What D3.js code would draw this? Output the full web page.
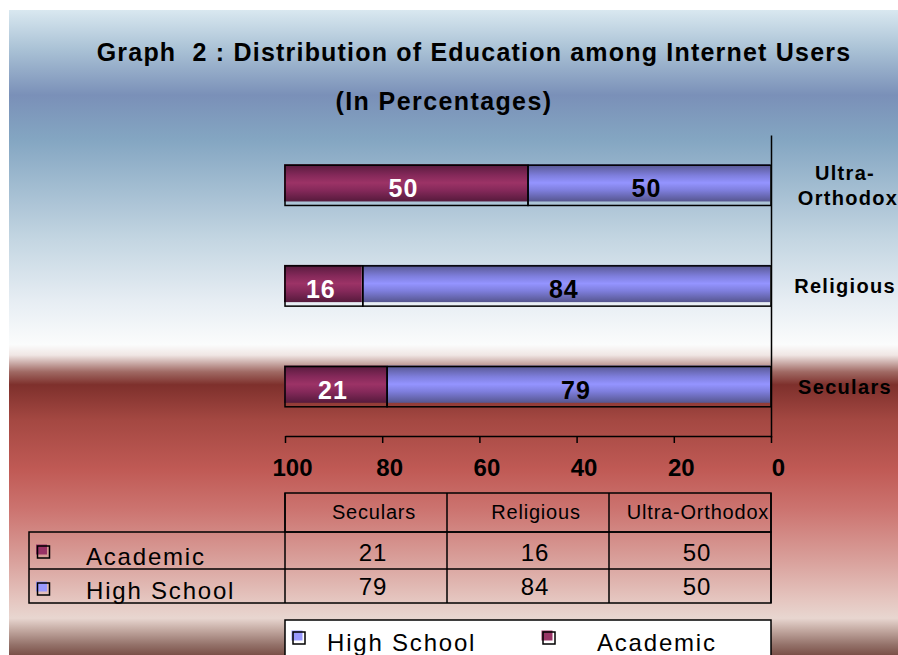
<!DOCTYPE html>
<html>
<head>
<meta charset="utf-8">
<script src="https://cdn.jsdelivr.net/npm/d3@7"></script>
<style>
  html, body { margin: 0; padding: 0; background: #fff; }
  svg { display: block; font-family: Arial, "Liberation Sans", sans-serif; }
</style>
</head>
<body>
<div id="chart_id"></div>
<script>
// --- data ---
const groups = ["Seculars", "Religious", "Ultra-Orthodox"];
const academic = [21, 16, 50];
const highSchool = [79, 84, 50];
const xTicks = [100, 80, 60, 40, 20, 0];
const seriesNames = ["Academic", "High School"];
const legendOrder = ["High School", "Academic"];

const colors = { "Academic": "#993366", "High School": "#9999ff" };

const width = 898, height = 655;

const svg = d3.select("#chart_id").append("svg")
  .attr("width", width)
  .attr("height", height);

const defs = svg.append("defs");

// background gradient (blue sky -> white -> red)
const bg = defs.append("linearGradient").attr("id", "bgGrad")
  .attr("x1", 0).attr("y1", 0).attr("x2", 0).attr("y2", 1);
[
  [0, "#d9e8f0"], [0.062, "#a9c1d5"], [0.132, "#7a90b8"], [0.202, "#84a6c2"],
  [0.357, "#c4d6e2"], [0.45, "#e6edf3"], [0.519, "#fbfcfc"], [0.535, "#f0e6e4"],
  [0.561, "#a06a64"], [0.581, "#7e302c"], [0.636, "#a44842"], [0.713, "#c05a55"],
  [0.775, "#cc7470"], [0.853, "#d9a09b"], [0.915, "#e5c6c0"], [0.943, "#e8d6d0"],
  [0.961, "#c4aaa2"], [0.984, "#94726a"], [1, "#7a5048"]
].forEach(([o, c]) => bg.append("stop").attr("offset", o).attr("stop-color", c));

// bar gradients (cylinder banding)
function barGrad(id, dark, mid, light) {
  const g = defs.append("linearGradient").attr("id", id)
    .attr("x1", 0).attr("y1", 0).attr("x2", 0).attr("y2", 1);
  [[0, dark], [0.3, mid], [0.5, light], [0.7, mid], [1, dark]]
    .forEach(([o, c]) => g.append("stop").attr("offset", o).attr("stop-color", c));
}
barGrad("gradAcademic", "#561a3c", "#85295a", "#9c3366");
barGrad("gradHigh", "#56568f", "#7e7edc", "#9494ff");
const gradIds = { "Academic": "url(#gradAcademic)", "High School": "url(#gradHigh)" };

svg.append("rect")
  .attr("x", 9).attr("y", 10)
  .attr("width", width - 9).attr("height", height - 10)
  .attr("fill", "url(#bgGrad)");

// --- title ---
svg.append("text")
  .attr("x", 474).attr("y", 61)
  .attr("text-anchor", "middle")
  .style("white-space", "pre")
  .attr("font-size", 25).attr("font-weight", "bold")
  .attr("letter-spacing", 1.2)
  .text("Graph  2 : Distribution of Education among Internet Users");
svg.append("text")
  .attr("x", 444).attr("y", 110)
  .attr("text-anchor", "middle")
  .attr("font-size", 25).attr("font-weight", "bold")
  .attr("letter-spacing", 1.4)
  .text("(In Percentages)");

// --- scales ---
const x = d3.scaleLinear().domain([100, 0]).range([285, 771]);
const y = d3.scaleBand()
  .domain(groups.slice().reverse())
  .range([135, 437])
  .paddingInner(0.6)
  .paddingOuter(0.3);

const rows = groups.map((g, i) => ({ group: g, "Academic": academic[i], "High School": highSchool[i] }));
const stacked = d3.stack().keys(["High School", "Academic"])(rows);

const bh = y.bandwidth();

// bars
const layer = svg.append("g").selectAll("g")
  .data(stacked)
  .join("g");

layer.selectAll("rect.fill")
  .data(s => s.map(d => ({ key: s.key, d })))
  .join("rect")
  .attr("class", "fill")
  .attr("x", e => x(e.d[1]) - 1)
  .attr("y", e => y(e.d.data.group) - 1)
  .attr("width", e => x(e.d[0]) - x(e.d[1]))
  .attr("height", bh - 3)
  .attr("fill", e => gradIds[e.key]);

layer.selectAll("rect.outline")
  .data(s => s.map(d => ({ key: s.key, d })))
  .join("rect")
  .attr("class", "outline")
  .attr("x", e => x(e.d[1]))
  .attr("y", e => y(e.d.data.group))
  .attr("width", e => x(e.d[0]) - x(e.d[1]))
  .attr("height", bh)
  .attr("fill", "none")
  .attr("stroke", "#000")
  .attr("stroke-width", 1.5);

layer.selectAll("text")
  .data(s => s.map(d => ({ key: s.key, d })))
  .join("text")
  .attr("x", e => (x(e.d[0]) + x(e.d[1])) / 2 - 3)
  .attr("y", e => y(e.d.data.group) + bh / 2 + 12)
  .attr("text-anchor", "middle")
  .attr("font-size", 25).attr("font-weight", "bold")
  .attr("letter-spacing", 1)
  .attr("fill", e => e.key === "Academic" ? "#fff" : "#000")
  .text(e => e.d[1] - e.d[0]);

// vertical axis line
svg.append("g")
  .attr("transform", `translate(${x(0)},0)`)
  .call(d3.axisLeft(y).tickSize(0).tickFormat(""))
  .call(g => g.select(".domain").attr("stroke", "#000").attr("stroke-width", 1.5));

// category labels
const catLabels = svg.append("g")
  .attr("font-size", 20).attr("font-weight", "bold")
  .attr("letter-spacing", 1.3)
  .attr("text-anchor", "middle");
groups.forEach(g => {
  const cy = y(g) + bh / 2;
  if (g === "Ultra-Orthodox") {
    catLabels.append("text").attr("x", 845).attr("y", cy - 5).text("Ultra-");
    catLabels.append("text").attr("x", 848).attr("y", cy + 20).text("Orthodox");
  } else {
    catLabels.append("text").attr("x", 845).attr("y", cy + 7).text(g);
  }
});

// bottom axis
const axisY = 436;
svg.append("g")
  .attr("transform", `translate(0,${axisY})`)
  .call(d3.axisBottom(x).tickValues(xTicks).tickSize(7).tickSizeOuter(0).tickPadding(16))
  .call(g => g.select(".domain").attr("stroke", "#000").attr("stroke-width", 1.5))
  .call(g => g.selectAll(".tick line").attr("stroke", "#000").attr("stroke-width", 1.5))
  .call(g => g.selectAll(".tick text")
    .attr("font-size", 24).attr("font-weight", "bold")
    .attr("font-family", "Arial, 'Liberation Sans', sans-serif")
    .attr("dx", 7).attr("fill", "#000"));

// --- data table ---
const col = d3.scaleBand().domain(groups).range([x(100), x(0)]);
const tHead = [493, 532], tRows = [[532, 569], [569, 603]];
const table = svg.append("g").attr("stroke", "#000").attr("stroke-width", 1.5);
// header row
table.append("rect").attr("x", x(100)).attr("y", tHead[0])
  .attr("width", x(0) - x(100)).attr("height", tHead[1] - tHead[0]).attr("fill", "none");
groups.forEach(g => table.append("line")
  .attr("x1", col(g)).attr("x2", col(g)).attr("y1", tHead[0]).attr("y2", tRows[1][1]));
// body rows
table.append("rect").attr("x", 29).attr("y", tRows[0][0])
  .attr("width", x(0) - 29).attr("height", tRows[1][1] - tRows[0][0]).attr("fill", "none");
table.append("line").attr("x1", 29).attr("x2", x(0)).attr("y1", tRows[1][0]).attr("y2", tRows[1][0]);
table.append("line").attr("x1", x(0)).attr("x2", x(0)).attr("y1", tHead[0]).attr("y2", tRows[1][1]);

svg.append("g").attr("font-size", 20).attr("letter-spacing", 0.8).attr("text-anchor", "middle")
  .selectAll("text").data(groups).join("text")
  .attr("x", g => col(g) + col.bandwidth() / 2 + 8)
  .attr("y", 519)
  .text(g => g);

const tableSeries = [academic, highSchool];
function marker(g, mx, my, name) {
  g.append("rect").attr("x", mx - 1.5).attr("y", my - 1.5).attr("width", 11).attr("height", 10)
    .attr("fill", colors[name]);
  g.append("rect").attr("x", mx).attr("y", my).attr("width", 12).attr("height", 12)
    .attr("fill", "none").attr("stroke", "#000").attr("stroke-width", 1.5);
}
seriesNames.forEach((name, r) => {
  const [y0, y1] = tRows[r];
  const g = svg.append("g");
  marker(g, 37.5, y0 + 14, name);
  g.append("text").attr("x", 86).attr("y", y1 - 4)
    .attr("font-size", 24).attr("letter-spacing", 1.8)
    .text(name);
  g.selectAll("text.val").data(tableSeries[r]).join("text")
    .attr("class", "val")
    .attr("x", (v, i) => col(groups[i]) + col.bandwidth() / 2 + 7)
    .attr("y", y1 - 8)
    .attr("text-anchor", "middle")
    .attr("font-size", 24).attr("letter-spacing", 1)
    .text(v => v);
});

// --- legend ---
const lg = svg.append("g");
lg.append("rect").attr("x", x(100)).attr("y", 620).attr("width", x(0) - x(100)).attr("height", 50)
  .attr("fill", "#fff").attr("stroke", "#000").attr("stroke-width", 1.5);
const legendX = { "High School": 293, "Academic": 543 };
const legendTextX = { "High School": 327, "Academic": 597 };
legendOrder.forEach(name => {
  marker(lg, legendX[name], 632, name);
  lg.append("text").attr("x", legendTextX[name]).attr("y", 651)
    .attr("font-size", 24).attr("letter-spacing", 1.8)
    .text(name);
});
</script>
</body>
</html>
